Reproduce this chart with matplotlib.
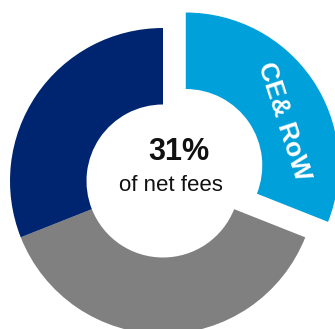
import matplotlib.pyplot as plt

plt.rcParams['font.family'] = ['Liberation Sans', 'DejaVu Sans']

segments = ["CE& RoW", "Other", "UK"]
shares = [31, 38, 31]
colors = ["#00A0DA", "#808080", "#002570"]
explode = [0.18, 0, 0]

W, H = 335, 329
cx, cy, r = 163, 181, 153

fig = plt.figure(figsize=(W / 100, H / 100), dpi=100)
ax = fig.add_axes([0, 0, 1, 1])

wedges, _ = ax.pie(shares, colors=colors, explode=explode, startangle=90,
                   counterclock=False, radius=1.0,
                   wedgeprops=dict(width=0.5, linewidth=0))

ax.set_xlim(-cx / r, (W - cx) / r)
ax.set_ylim(-(H - cy) / r, cy / r)
ax.set_aspect('auto')
ax.axis('off')

# label inside the exploded slice
ax.text(0.79, 0.39, segments[0], color="white", fontsize=19, fontweight="bold",
        rotation=-72, ha="center", va="center", rotation_mode="anchor")

ax.text(0.105, 0.19, f"{shares[0]}%", fontsize=22, fontweight="bold",
        ha="center", va="center", color="#111111")
ax.text(0.052, -0.03, "of net fees", fontsize=16, ha="center", va="center",
        color="#111111")

fig.savefig("out.png", dpi=100)
